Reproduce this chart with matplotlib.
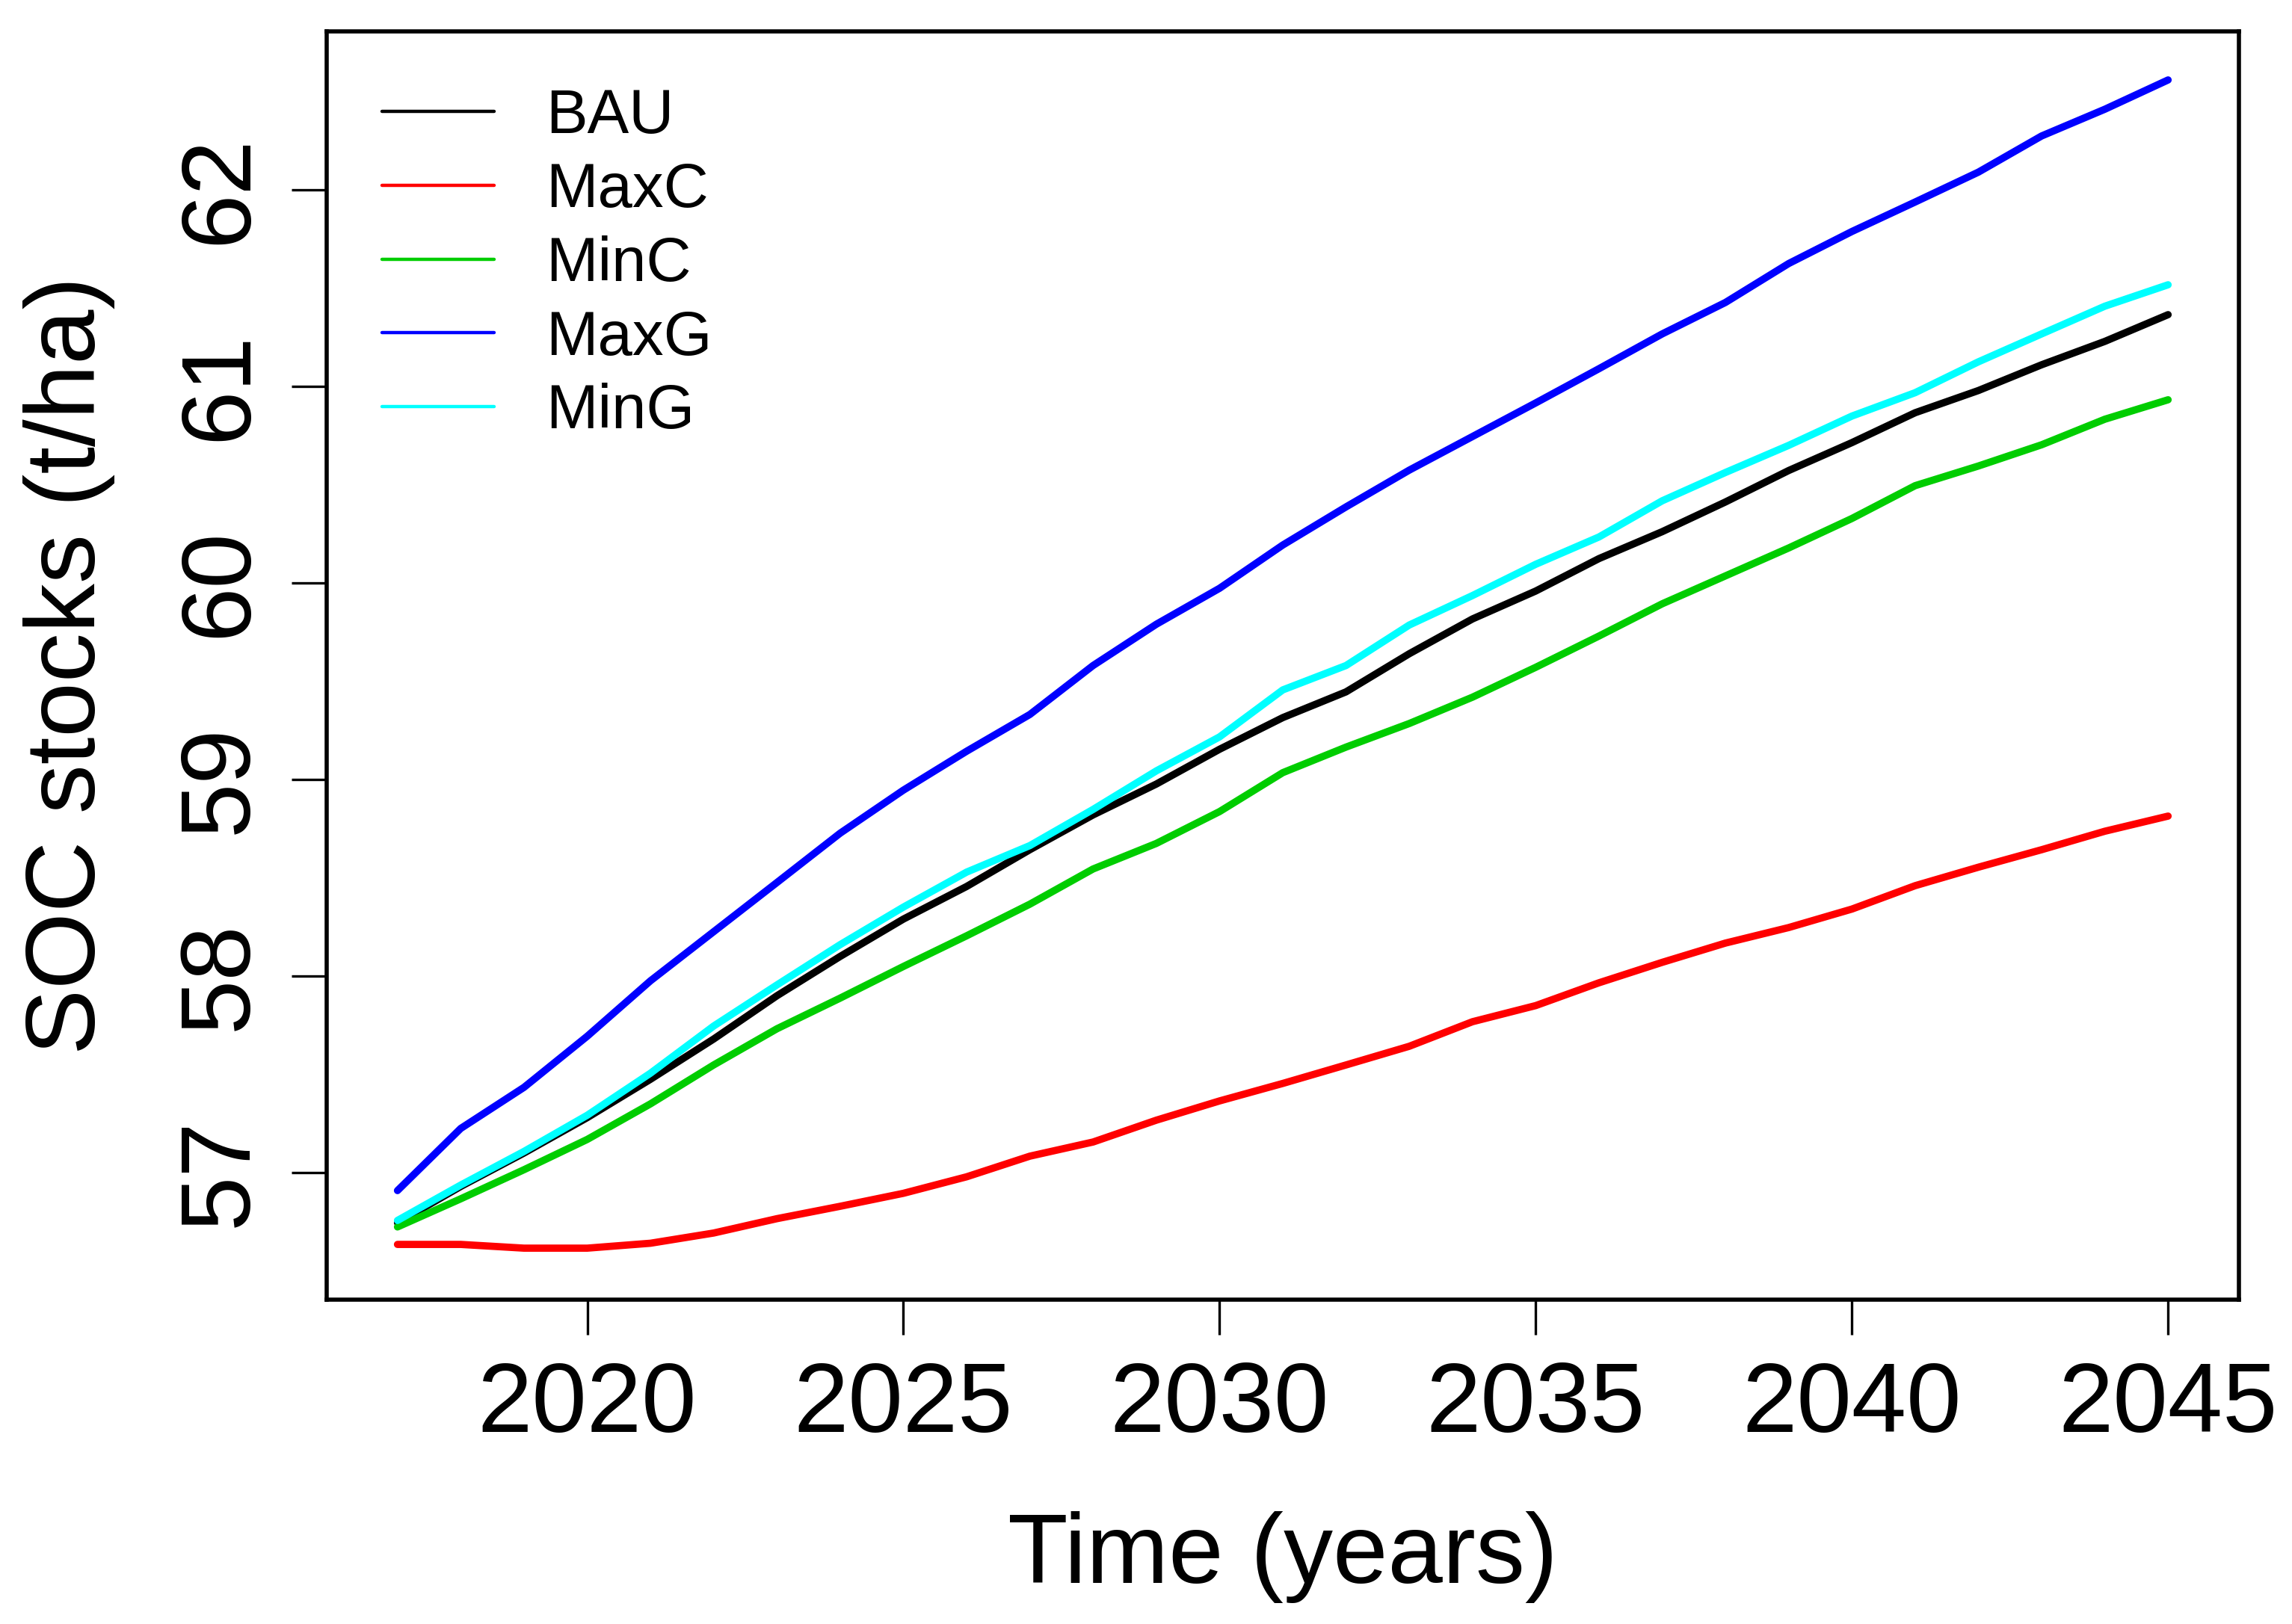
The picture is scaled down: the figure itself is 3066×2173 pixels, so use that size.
import matplotlib
matplotlib.use("Agg")
import matplotlib.pyplot as plt
import numpy as np

# === data (t/ha, yearly) ===
years = np.arange(2017, 2046)

bau = [56.745, 56.93, 57.10, 57.28, 57.475, 57.68, 57.90, 58.10, 58.29, 58.456,
       58.643, 58.82, 58.977, 59.154, 59.315, 59.446, 59.64, 59.817, 59.959, 60.124,
       60.261, 60.412, 60.572, 60.714, 60.866, 60.979, 61.11, 61.229, 61.365]
maxc = [56.635, 56.635, 56.616, 56.616, 56.641, 56.693, 56.766, 56.829, 56.895, 56.979,
        57.084, 57.156, 57.267, 57.365, 57.454, 57.548, 57.643, 57.768, 57.85, 57.966,
        58.07, 58.168, 58.247, 58.341, 58.46, 58.554, 58.643, 58.737, 58.814]
minc = [56.724, 56.867, 57.015, 57.169, 57.35, 57.548, 57.732, 57.888, 58.049, 58.205,
        58.366, 58.545, 58.675, 58.837, 59.035, 59.165, 59.285, 59.419, 59.571, 59.73,
        59.894, 60.036, 60.178, 60.328, 60.495, 60.595, 60.703, 60.833, 60.932]
maxg = [56.909, 57.225, 57.434, 57.694, 57.976, 58.226, 58.476, 58.727, 58.946, 59.144,
        59.331, 59.58, 59.79, 59.973, 60.193, 60.387, 60.574, 60.745, 60.916, 61.09,
        61.267, 61.427, 61.625, 61.788, 61.938, 62.09, 62.274, 62.41, 62.559]
ming = [56.757, 56.937, 57.108, 57.292, 57.506, 57.746, 57.955, 58.16, 58.351, 58.529,
        58.664, 58.848, 59.044, 59.217, 59.456, 59.58, 59.786, 59.936, 60.095, 60.234,
        60.418, 60.562, 60.70, 60.849, 60.968, 61.125, 61.267, 61.408, 61.517]

series_names = ["BAU", "MaxC", "MinC", "MaxG", "MinG"]
series_values = [bau, maxc, minc, maxg, ming]
series_colors = ["black", "#FF0000", "#00CD00", "#0000FF", "#00FFFF"]

x_ticks = [2020, 2025, 2030, 2035, 2040, 2045]
y_ticks = [57, 58, 59, 60, 61, 62]

plt.rcParams.update({
    "font.family": ["Liberation Sans", "DejaVu Sans"],
    "font.size": 95,
})

fig = plt.figure(figsize=(30.66, 21.73), dpi=100)
ax = fig.add_axes([0.14253, 0.19972, 0.83431, 0.78095])

for name, vals, col in zip(series_names, series_values, series_colors):
    ax.plot(years, vals, color=col, lw=7, label=name, solid_capstyle="round")

# R style axis extension (4%)
ax.set_xlim(2015.88, 2046.12)
ax.set_ylim(56.354, 62.806)

ax.set_xticks(x_ticks)
ax.set_yticks(y_ticks)
ax.set_yticklabels([str(v) for v in y_ticks], rotation=90, va="center")
ax.tick_params(axis="both", length=34, width=2.4, pad=24, labelsize=95, color="black")

for sp in ax.spines.values():
    sp.set_linewidth(4)

ax.set_xlabel("Time (years)", fontsize=95, va="baseline")
ax.xaxis.set_label_coords(0.5, -0.2233)
ax.set_ylabel("SOC stocks (t/ha)", fontsize=95, va="baseline")
ax.yaxis.set_label_coords(-0.1212, 0.5)

leg = ax.legend(loc="upper left", bbox_to_anchor=(0.0289, 0.9558), frameon=False,
                fontsize=60, handlelength=1.8, handletextpad=0.83, labelspacing=0.25,
                borderpad=0, borderaxespad=0)
for h in leg.legend_handles:
    h.set_linewidth(3.2)

plt.savefig("out.png", dpi=100)
plt.close(fig)
